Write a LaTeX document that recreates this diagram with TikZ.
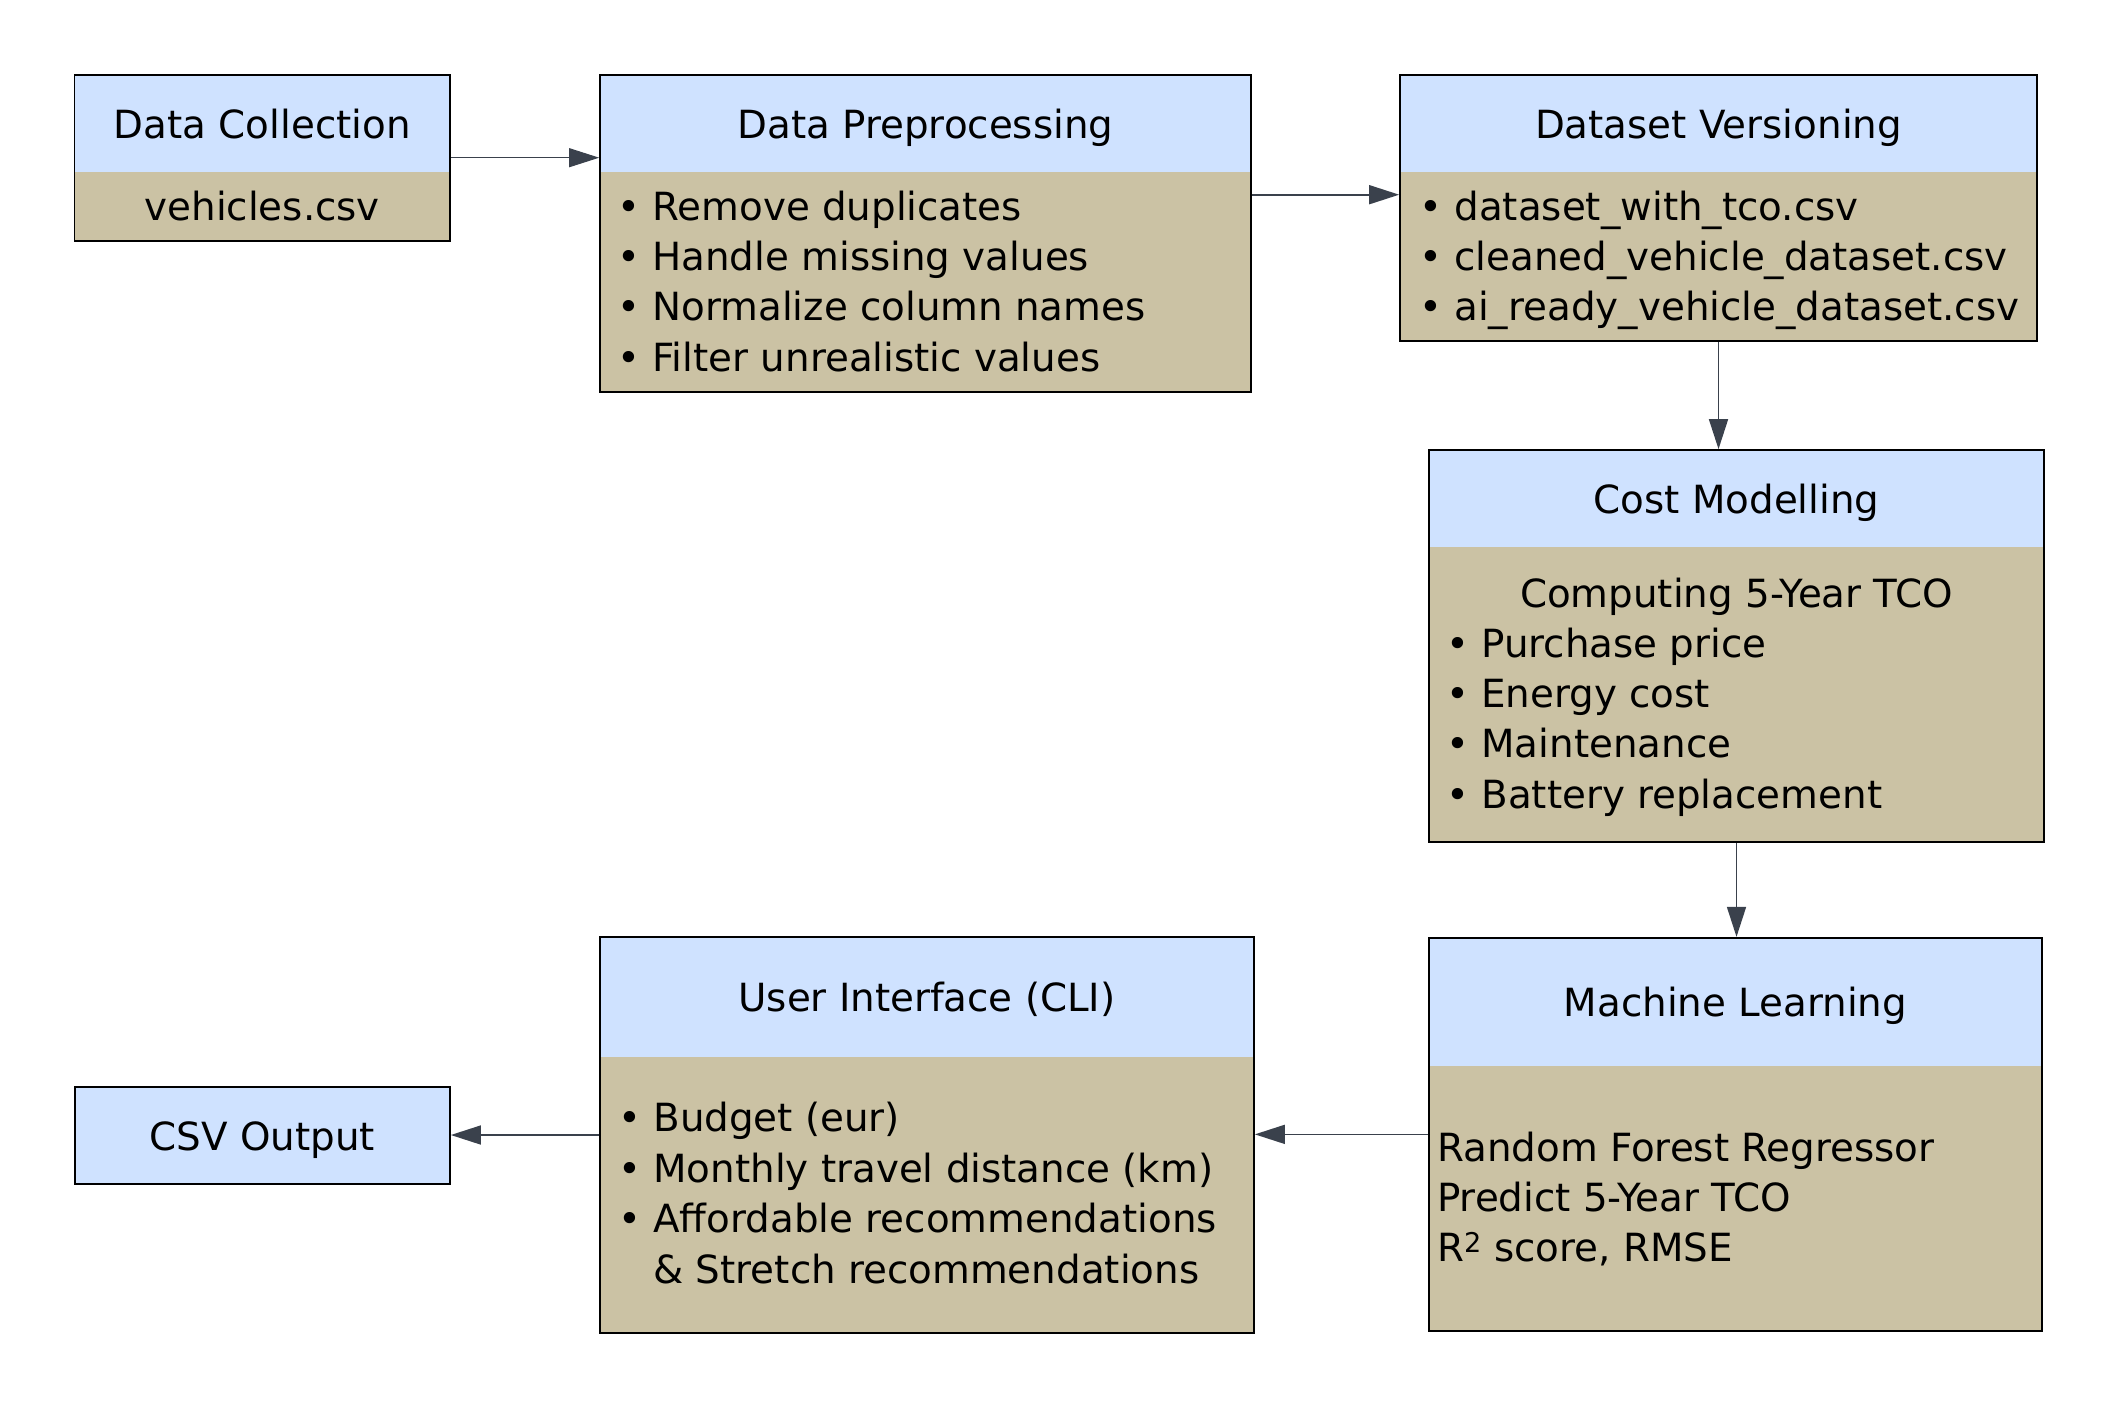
\documentclass[tikz,border=0pt]{standalone}
\usepackage{fontspec}
\setmainfont{DejaVu Sans}
\usetikzlibrary{arrows.meta}
\definecolor{hdrblue}{RGB}{207,226,255}
\definecolor{bodytan}{RGB}{203,194,164}
\definecolor{arrgray}{RGB}{58,65,76}
\begin{document}
\begin{tikzpicture}[x=1pt,y=-1pt,
  box/.style={draw=black, line width=1.7pt, fill=bodytan, inner sep=0pt, rectangle,
    path picture={\fill[hdrblue] (path picture bounding box.north west) rectangle ([yshift=-#1]path picture bounding box.north east);}},
  txt/.style={inner sep=0pt, anchor=base, font=\fontsize{38.8}{46}\selectfont},
  lt/.style={txt, anchor=base west},
  arr/.style={draw=arrgray, line width=1.6pt, -{Triangle[length=30pt,width=19pt]}}]
\useasboundingbox (0,0) rectangle (2119,1408);
% boxes
\node[box=97.3pt, minimum width=375.5pt, minimum height=166pt] (dc) at (262.25,157.7) {};
\node[box=97.3pt, minimum width=651pt, minimum height=317pt] (dp) at (925.5,233.2) {};
\node[box=97.3pt, minimum width=637pt, minimum height=266.3pt] (dv) at (1718.5,207.85) {};
\node[box=97pt, minimum width=615pt, minimum height=392.3pt] (cm) at (1736.5,646.15) {};
\node[box=128pt, minimum width=613pt, minimum height=393.3pt] (ml) at (1735.5,1134.35) {};
\node[box=119.4pt, minimum width=654pt, minimum height=395.4pt] (ui) at (927,1135) {};
\node[box=200pt, minimum width=375pt, minimum height=96.4pt] (csv) at (262.5,1135.5) {};
% texts
\node[txt] (dcT) at (262.25,138) {Data Collection};
\node[txt] (dcB) at (262.25,220) {vehicles.csv};
\node[txt] (dpT) at (925.5,138) {Data Preprocessing};
\node[lt] (dp1) at (617,220) {• Remove duplicates};
\node[lt] (dp2) at (617,270.3) {• Handle missing values};
\node[lt] (dp3) at (617,320.6) {• Normalize column names};
\node[lt] (dp4) at (617,371) {• Filter unrealistic values};
\node[txt] (dvT) at (1718.5,138) {Dataset Versioning};
\node[lt] (dv1) at (1419,220) {• dataset\_with\_tco.csv};
\node[lt] (dv2) at (1419,270.3) {• cleaned\_vehicle\_dataset.csv};
\node[lt] (dv3) at (1419,320.6) {• ai\_ready\_vehicle\_dataset.csv};
\node[txt] (cmT) at (1736.5,513.3) {Cost Modelling};
\node[txt] (cm0) at (1736.5,607) {Computing 5-Year TCO};
\node[lt] (cm1) at (1446,657) {• Purchase price};
\node[lt] (cm2) at (1446,707.5) {• Energy cost};
\node[lt] (cm3) at (1446,757.5) {• Maintenance};
\node[lt] (cm4) at (1446,808) {• Battery replacement};
\node[txt] (mlT) at (1735.5,1016.7) {Machine Learning};
\node[lt] (ml1) at (1437,1161.7) {Random Forest Regressor};
\node[lt] (ml2) at (1437,1211.7) {Predict 5-Year TCO};
\node[lt] (ml3) at (1437,1261.7) {R\textsuperscript{2} score, RMSE};
\node[txt] (uiT) at (927,1011.7) {User Interface (CLI)};
\node[lt] (ui1) at (618,1131.7) {• Budget (eur)};
\node[lt] (ui2) at (618,1182.2) {• Monthly travel distance (km)};
\node[lt] (ui3) at (618,1232.7) {• Affordable recommendations};
\node[lt] (ui4) at (618,1283) {\phantom{• }\& Stretch recommendations};
\node[txt] (csvT) at (262.5,1150) {CSV Output};
% connectors
\draw[arr, line width=1pt] (dc.east) -- (dc.east -| dp.west);
\coordinate (dpOut) at ([yshift=38.5pt]dp.east);
\draw[arr] (dpOut) -- (dpOut -| dv.west);
\draw[arr] (dv.south) -- (dv.south |- cm.north);
\draw[arr] (cm.south) -- (cm.south |- ml.north);
\draw[arr] (ml.west) -- (ml.west -| ui.east);
\draw[arr] (ui.west) -- (ui.west -| csv.east);
\end{tikzpicture}
\end{document}
